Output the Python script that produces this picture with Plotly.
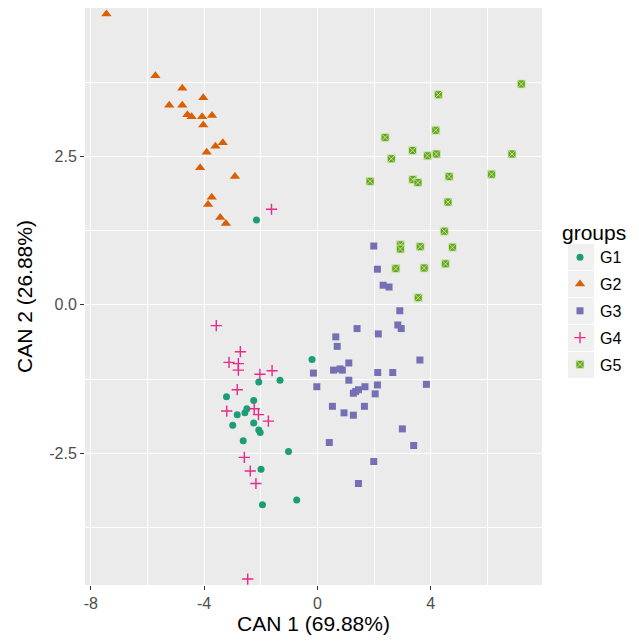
import plotly.graph_objects as go

# ---- data ----
groups = ["G1", "G2", "G3", "G4", "G5"]

g1_x = [-2.15, -0.19, -1.32, -2.07, -3.21, -2.25, -2.49, -2.56, -2.83, -2.99, -2.25, -2.07, -2.02, -2.62, -1.02, -1.99, -0.73, -1.94]
g1_y = [1.43, -0.92, -1.27, -1.30, -1.55, -1.61, -1.75, -1.82, -1.85, -2.03, -1.99, -2.11, -2.15, -2.29, -2.47, -2.77, -3.29, -3.37]

g2_x = [-7.45, -5.72, -4.77, -4.03, -5.23, -4.77, -4.59, -4.44, -4.07, -3.72, -4.03, -3.34, -3.60, -3.91, -4.14, -2.91, -3.73, -3.86, -3.43, -3.23]
g2_y = [4.90, 3.86, 3.65, 3.49, 3.36, 3.36, 3.20, 3.17, 3.17, 3.19, 3.03, 2.73, 2.67, 2.57, 2.31, 2.16, 1.81, 1.69, 1.47, 1.37]

g3_x = [1.99, 2.12, 2.32, 2.53, 2.91, 2.84, 2.96, 1.40, 2.15, 0.65, 0.70, 3.62, 1.11, 0.57, 0.80, 0.88, 2.13, 2.66, 1.11, 3.85,
        2.12, 1.68, 1.45, 1.27, 1.35, 2.04, 0.53, 1.66, 0.94, 1.27, 3.00, 0.42, 3.40, 1.99, 1.45, -0.14, -0.02]
g3_y = [0.99, 0.60, 0.33, 0.30, -0.10, -0.34, -0.40, -0.40, -0.49, -0.54, -0.70, -0.93, -0.98, -1.10, -1.08, -1.10, -1.14, -1.14, -1.27, -1.34,
        -1.35, -1.38, -1.43, -1.49, -1.46, -1.50, -1.71, -1.71, -1.82, -1.86, -2.09, -2.32, -2.37, -2.64, -3.01, -1.15, -1.38]

g4_x = [-1.62, -3.57, -2.72, -3.12, -2.79, -2.79, -2.03, -1.60, -2.83, -3.20, -2.23, -2.08, -1.73, -2.58, -2.37, -2.17, -2.46]
g4_y = [1.61, -0.35, -0.79, -0.97, -0.99, -1.10, -1.17, -1.11, -1.43, -1.79, -1.75, -1.85, -1.96, -2.57, -2.80, -3.01, -4.62]

g5_x = [7.20, 4.27, 4.18, 2.39, 3.36, 4.20, 3.89, 6.87, 2.61, 4.65, 6.15, 1.86, 3.37, 3.55, 4.61, 4.48, 2.93, 2.93, 3.63, 4.77, 2.77, 3.77, 4.52, 3.56]
g5_y = [3.72, 3.54, 2.94, 2.82, 2.60, 2.54, 2.51, 2.54, 2.46, 2.16, 2.20, 2.08, 2.11, 2.06, 1.73, 1.24, 1.01, 0.94, 0.98, 0.97, 0.61, 0.62, 0.69, 0.12]

x_ticks = [-8, -4, 0, 4]
x_tick_labels = ["-8", "-4", "0", "4"]
y_ticks = [-2.5, 0.0, 2.5]
y_tick_labels = ["-2.5", "0.0", "2.5"]

xs = [g1_x, g2_x, g3_x, g4_x, g5_x]
ys = [g1_y, g2_y, g3_y, g4_y, g5_y]

colors = ["#1B9E77", "#D95F02", "#7570B3", "#E7298A", "#66A61E"]
symbols = ["circle", "triangle-up", "square", "cross-thin", "square-x"]
sizes = [7, 9, 7, 8, 8]

W, H = 639, 642
L, R, T, B = 85, 97, 8, 57
pw, ph = W - L - R, H - T - B

fig = go.Figure()
for i, g in enumerate(groups):
    if symbols[i] == "cross-thin":
        marker = dict(symbol="cross-thin", size=sizes[i], color=colors[i],
                      line=dict(color=colors[i], width=1.4))
    elif symbols[i] == "square-x":
        marker = dict(symbol="square-x", size=sizes[i], color=colors[i],
                      line=dict(color="#d6ebbd", width=0.8))
    else:
        marker = dict(symbol=symbols[i], size=sizes[i], color=colors[i], line=dict(width=0))
    fig.add_trace(go.Scatter(x=xs[i], y=ys[i], mode="markers", name=g,
                             legendgroup=g, marker=marker))

# legend key background boxes (ggplot style)
shapes = []
key_centers = [257, 284, 311, 338, 365]
for cy in key_centers:
    x0, x1 = 568, 594
    y0, y1 = cy - 13, cy + 13
    shapes.append(dict(type="rect", xref="paper", yref="paper",
                       x0=(x0 - L) / pw, x1=(x1 - L) / pw,
                       y0=(H - B - y1) / ph, y1=(H - B - y0) / ph,
                       fillcolor="#F0F0F0", line=dict(width=0), layer="above"))

fig.update_layout(
    width=W, height=H,
    margin=dict(l=L, r=R, t=T, b=B, pad=0),
    paper_bgcolor="white",
    plot_bgcolor="#EBEBEB",
    font=dict(family="Liberation Sans, Arial, sans-serif", color="black"),
    shapes=shapes,
    legend=dict(
        title=dict(text="groups", font=dict(size=21, color="black")),
        font=dict(size=16, color="black"),
        x=(560 - L) / pw, xanchor="left",
        y=(H - B - 213) / ph, yanchor="top",
        bgcolor="rgba(0,0,0,0)",
        tracegroupgap=3,
    ),
    xaxis=dict(
        range=[-8.205, 7.93],
        tickmode="array", tickvals=x_ticks, ticktext=x_tick_labels,
        ticks="outside", ticklen=4, tickcolor="#333333", tickwidth=1,
        tickfont=dict(size=16, color="#4D4D4D"),
        showgrid=True, gridcolor="white", gridwidth=1.3,
        minor=dict(tickmode="array", tickvals=[-6, -2, 2, 6], showgrid=True,
                   gridcolor="white", gridwidth=0.6, ticks=""),
        zeroline=False, showline=False,
        title=dict(text="CAN 1 (69.88%)", font=dict(size=21, color="black"), standoff=4),
    ),
    yaxis=dict(
        range=[-4.72, 5.0],
        tickmode="array", tickvals=y_ticks, ticktext=y_tick_labels,
        ticks="outside", ticklen=4, tickcolor="#333333", tickwidth=1,
        tickfont=dict(size=16, color="#4D4D4D"),
        showgrid=True, gridcolor="white", gridwidth=1.3,
        minor=dict(tickmode="array", tickvals=[-3.75, -1.25, 1.25, 3.75], showgrid=True,
                   gridcolor="white", gridwidth=0.6, ticks=""),
        zeroline=False, showline=False,
        title=dict(text="CAN 2 (26.88%)", font=dict(size=21, color="black"), standoff=10),
    ),
)

fig.write_html("out.html")
